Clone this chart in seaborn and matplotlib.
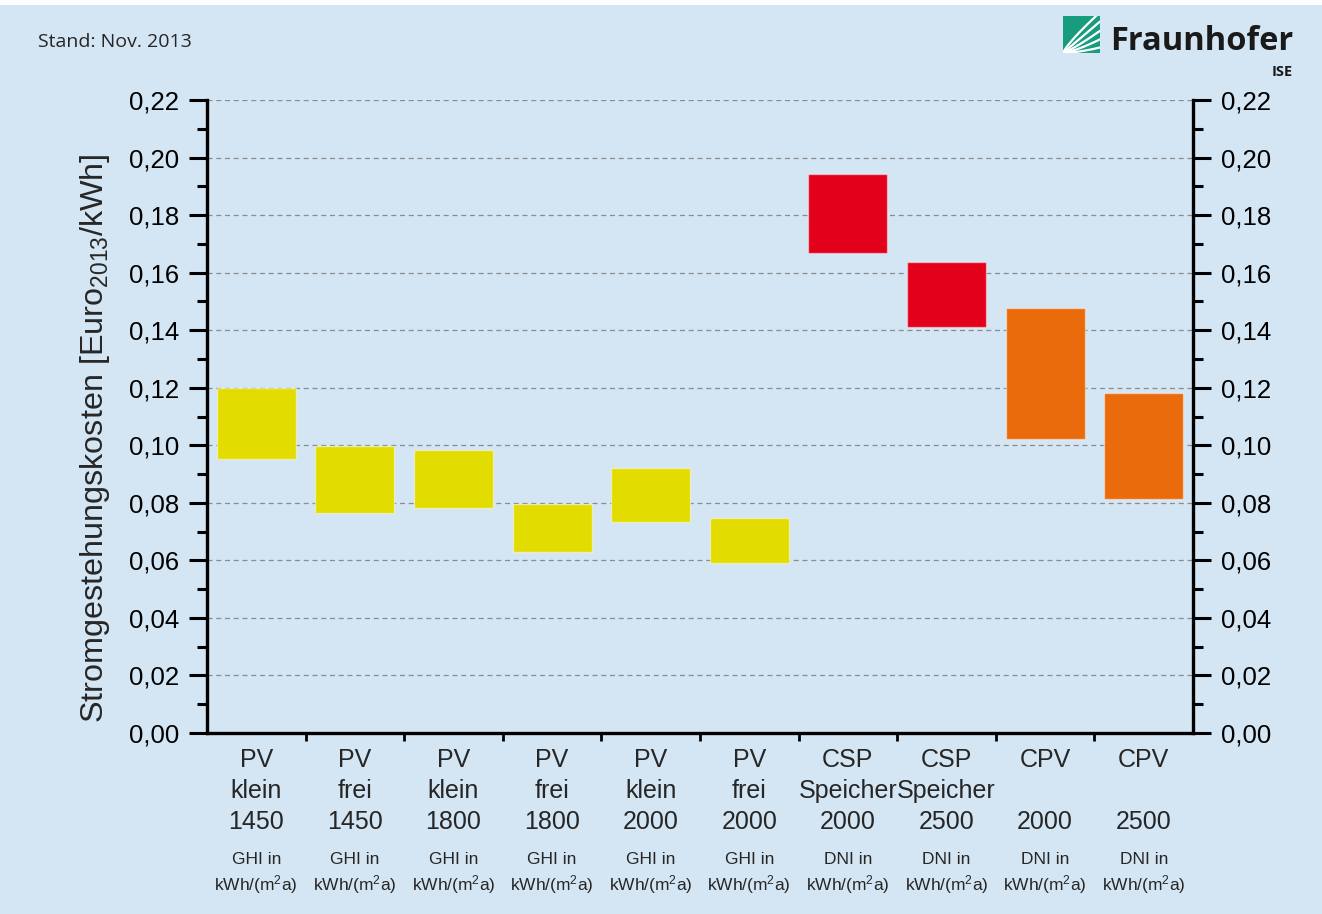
import numpy as np
import pandas as pd
import matplotlib
matplotlib.use("Agg")
import matplotlib.pyplot as plt
import matplotlib.transforms as mtransforms
from matplotlib.ticker import MultipleLocator, FuncFormatter
import seaborn as sns

# Stromgestehungskosten, Bandbreite je Technologie (Euro2013/kWh)
technologies = ["PV", "PV", "PV", "PV", "PV", "PV", "CSP", "CSP", "CPV", "CPV"]
variants = ["klein", "frei", "klein", "frei", "klein", "frei", "Speicher", "Speicher", "", ""]
irradiation = ["1450", "1450", "1800", "1800", "2000", "2000", "2000", "2500", "2000", "2500"]
irr_kind = ["GHI", "GHI", "GHI", "GHI", "GHI", "GHI", "DNI", "DNI", "DNI", "DNI"]
cost_low = [0.0952, 0.0765, 0.0782, 0.0630, 0.0733, 0.0591, 0.1667, 0.1410, 0.1021, 0.0815]
cost_high = [0.1199, 0.0999, 0.0984, 0.0797, 0.0922, 0.0748, 0.1944, 0.1637, 0.1477, 0.1182]
bar_colors = ["#E2DC00", "#E2DC00", "#E2DC00", "#E2DC00", "#E2DC00", "#E2DC00",
              "#E3001B", "#E3001B", "#EA6B0C", "#EA6B0C"]
y_ticks = [0.00, 0.02, 0.04, 0.06, 0.08, 0.10, 0.12, 0.14, 0.16, 0.18, 0.20, 0.22]

bg = "#D4E5F3"

sns.set_theme(style="ticks")
plt.rcParams["font.family"] = ["Liberation Sans", "DejaVu Sans"]
plt.rcParams["mathtext.fontset"] = "custom"
plt.rcParams["mathtext.rm"] = "Liberation Sans"
plt.rcParams["mathtext.it"] = "Liberation Sans:italic"
plt.rcParams["mathtext.bf"] = "Liberation Sans:bold"

fig = plt.figure(figsize=(13.22, 9.14), dpi=100, facecolor=bg)
ax = fig.add_axes([207 / 1322, 1 - 733 / 914, 986 / 1322, 633 / 914])
ax.set_facecolor(bg)

df = pd.DataFrame({
    "case": [f"{t} {v} {i}" for t, v, i in zip(technologies, variants, irradiation)],
    "span": np.array(cost_high) - np.array(cost_low),
})
sns.barplot(data=df, x="case", y="span", bottom=np.array(cost_low), width=0.8,
            color=bar_colors[0], errorbar=None, edgecolor=(1, 1, 1, 0.45),
            linewidth=1.0, zorder=3, ax=ax)
for patch, c in zip(ax.patches, bar_colors):
    patch.set_facecolor(c)

ax.set_xlim(-0.5, 9.5)
ax.set_ylim(0, 0.22)
ax.set_xlabel("")
ax.set_ylabel("")

# axes / ticks
for side in ["left", "right", "bottom"]:
    ax.spines[side].set_visible(True)
    ax.spines[side].set_linewidth(2.4)
    ax.spines[side].set_color("black")
ax.spines["top"].set_visible(False)

ax.set_xticks(np.arange(0.5, 9, 1))
ax.set_xticklabels([])
ax.tick_params(axis="x", direction="out", length=6, width=2, color="black")

ax.set_yticks(y_ticks)
ax.yaxis.set_minor_locator(MultipleLocator(0.01))
ax.yaxis.set_major_formatter(FuncFormatter(lambda v, p: f"{v:.2f}".replace(".", ",")))
ax.tick_params(axis="y", which="major", direction="out", length=13, width=2.2,
               left=True, right=True, labelleft=True, labelright=True,
               labelsize=18.5, pad=7, color="black", labelcolor="black")
ax.tick_params(axis="y", which="minor", direction="out", length=7, width=2.2,
               left=True, right=True, color="black")

ax.yaxis.grid(True, which="major", linestyle=(0, (4, 3)), color="#8c8c8c", linewidth=0.9)
ax.set_axisbelow(True)

# category labels below the axis
trans = mtransforms.blended_transform_factory(ax.transData, fig.transFigure)
for i in range(len(technologies)):
    ax.text(i, 1 - 760 / 914, technologies[i], transform=trans, ha="center", va="center", fontsize=18)
    ax.text(i, 1 - 791 / 914, variants[i], transform=trans, ha="center", va="center", fontsize=18)
    ax.text(i, 1 - 822 / 914, irradiation[i], transform=trans, ha="center", va="center", fontsize=18)
    ax.text(i, 1 - 859 / 914, f"{irr_kind[i]} in", transform=trans, ha="center", va="center", fontsize=12.5)
    ax.text(i, 1 - 885 / 914, r"kWh/(m$^{2}$a)", transform=trans, ha="center", va="center", fontsize=12.5)

fig.text(95 / 1322, 1 - 438 / 914, r"Stromgestehungskosten [Euro$_{2013}$/kWh]",
         rotation=90, ha="center", va="center", fontsize=23.3)

fig.text(38 / 1322, 1 - 42 / 914, "Stand: Nov. 2013", ha="left", va="center",
         fontsize=14, family=["Open Sans", "DejaVu Sans"])

# white strip on top
fig.patches.append(plt.Rectangle((0, 1 - 5 / 914), 1, 5 / 914, transform=fig.transFigure,
                                 facecolor="white", edgecolor="none", zorder=0))

# Fraunhofer logo
logo = fig.add_axes([1063 / 1322, 1 - 53 / 914, 37 / 1322, 37 / 914])
logo.set_facecolor("#179C7D")
logo.set_xlim(0, 1)
logo.set_ylim(0, 1)
logo.set_xticks([])
logo.set_yticks([])
for s in logo.spines.values():
    s.set_visible(False)
t = np.linspace(0, 1, 50)
for k, a in enumerate([0.15, 0.32, 0.5, 0.7, 0.9]):
    ys = a * t ** (1.6 - 0.2 * k) + (0.05 * k) * t
    logo.plot(t, np.clip(ys, 0, 1.2), color="white", lw=1.6)
fig.text(1110 / 1322, 1 - 41 / 914, "Fraunhofer", ha="left", va="center",
         fontsize=23.5, fontweight="bold", color="#1a1a1a", family=["Open Sans", "DejaVu Sans"])
fig.text(1293 / 1322, 1 - 72 / 914, "ISE", ha="right", va="center",
         fontsize=10.5, fontweight="bold", color="#1a1a1a", family=["Open Sans", "DejaVu Sans"])

fig.savefig("out.png", dpi=100, facecolor=bg)
